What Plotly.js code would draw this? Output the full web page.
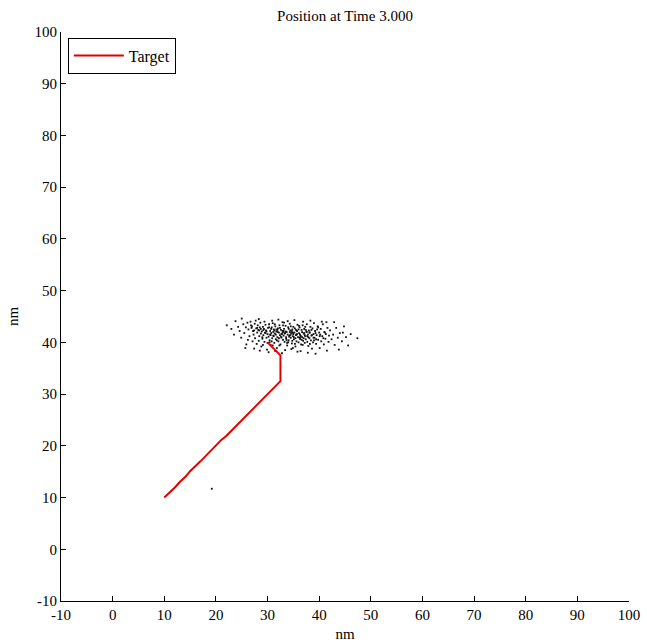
<!DOCTYPE html>
<html>
<head>
<meta charset="utf-8">
<script src="https://cdn.plot.ly/plotly-3.0.1.min.js"></script>
<style>
  html, body { margin: 0; padding: 0; background: #fff; }
  #chart { width: 647px; height: 644px; }
</style>
</head>
<body>
<div id="chart"></div>
<script>
// Target track (nm)
const targetX = [10.0, 10.8, 11.4, 12.1, 13.0, 14.1, 15.0, 16.0, 17.0, 18.0, 19.0, 20.0, 21.0, 22.0, 23.0, 24.1, 25.0, 26.0, 27.0, 28.0, 28.9, 29.8, 30.4, 31.1, 31.8, 32.5, 32.5, 32.5, 31.3, 30.0];
const targetY = [10.0, 10.7, 11.4, 12.0, 13.0, 14.0, 15.1, 16.0, 17.0, 18.0, 19.1, 20.0, 21.1, 21.9, 22.9, 24.0, 25.0, 26.0, 27.0, 28.1, 28.8, 29.8, 30.5, 31.0, 31.7, 32.5, 35.0, 37.5, 38.7, 40.0];

// Particle positions (nm)
const particleX = [
  22.1, 23.0, 23.8, 24.3, 24.6, 25.0, 25.3, 25.5, 25.8, 24.9, 23.5, 25.9, 26.1, 26.3, 26.5, 26.7, 26.9, 26.2, 25.7,
  27.0, 27.2, 27.3, 27.5, 27.6, 27.8, 27.9, 28.0, 28.1, 28.2, 28.3, 28.4, 28.5, 28.6, 28.7, 28.8, 28.9, 29.0, 29.1, 29.2, 29.3, 29.4, 29.5, 29.6, 29.7, 29.8, 29.9, 30.0, 27.4, 28.5, 29.1, 27.1, 27.7, 28.3, 29.4,
  30.1, 30.2, 30.3, 30.4, 30.5, 30.6, 30.7, 30.8, 30.9, 31.0, 31.1, 31.2, 31.3, 31.4, 31.5, 31.6, 31.7, 31.8, 31.9, 32.0, 32.1, 32.2, 32.3, 32.4, 32.5, 32.6, 32.7, 32.8, 32.9, 33.0, 30.2, 31.5, 32.8, 30.9, 32.1, 30.6, 31.3, 32.4, 31.8, 30.4, 33.0,
  33.1, 33.2, 33.3, 33.4, 33.5, 33.6, 33.7, 33.8, 33.9, 34.0, 34.1, 34.2, 34.3, 34.4, 34.5, 34.6, 34.7, 34.8, 34.9, 35.0, 35.1, 35.2, 35.3, 35.4, 35.5, 35.6, 35.7, 35.8, 35.9, 36.0, 33.4, 34.6, 35.8, 33.9, 35.2, 34.3, 35.5, 34.0, 33.6, 35.0, 34.8, 33.2,
  36.1, 36.2, 36.3, 36.4, 36.5, 36.6, 36.7, 36.8, 36.9, 37.0, 37.1, 37.2, 37.3, 37.4, 37.5, 37.6, 37.7, 37.8, 37.9, 38.0, 38.1, 38.2, 38.3, 38.4, 38.5, 38.6, 38.7, 38.8, 38.9, 39.0, 36.4, 37.8, 36.9, 38.3, 37.2, 36.6,
  39.1, 39.2, 39.4, 39.5, 39.7, 39.8, 40.0, 40.1, 40.3, 40.4, 40.6, 40.7, 40.9, 41.0, 41.2, 41.3, 41.5, 41.6, 41.8, 41.9, 39.3, 40.5, 41.4,
  42.1, 42.4, 42.7, 43.0, 43.3, 43.6, 44.0, 44.4, 44.8, 45.2, 45.6, 46.1, 47.4, 43.8, 42.9, 44.6,
  30.5, 30.8, 31.1, 31.6, 31.9, 32.2, 32.6, 32.9, 33.3, 33.7, 34.1, 34.4, 34.7, 35.1, 35.4, 35.7, 36.0, 36.3, 36.7, 37.0, 37.4, 37.7, 38.1, 38.5, 38.9, 39.3, 39.6, 40.2, 40.8, 41.1,
  29.8, 29.2, 28.7, 28.0, 27.4, 26.8, 31.4, 33.0, 34.5, 36.1, 37.3, 39.8, 32.3, 33.8, 35.3, 36.8, 38.2, 31.0, 34.9, 30.0,
  28.4, 29.6, 30.7, 31.2, 32.0, 32.7, 33.5, 34.2, 34.9, 35.6, 36.4, 37.1, 37.9, 38.6, 39.4, 40.1, 29.0, 30.3, 31.7, 33.1, 34.6, 36.2, 37.6, 39.0,
  19.2
];
const particleY = [
  43.3, 42.6, 44.1, 43.0, 42.2, 44.6, 43.5, 41.8, 42.9, 40.9, 41.5, 39.6, 43.8, 42.5, 41.2, 44.0, 42.8, 40.5, 38.9,
  43.1, 42.2, 41.5, 43.6, 40.8, 42.7, 39.7, 41.9, 43.3, 42.4, 40.3, 41.2, 42.9, 43.8, 41.7, 39.2, 42.1, 40.7, 43.0, 41.4, 42.6, 40.1, 41.9, 43.4, 42.3, 40.9, 38.6, 41.6, 38.8, 38.4, 39.5, 40.2, 44.2, 44.5, 44.0,
  42.8, 41.1, 43.5, 40.4, 42.2, 39.5, 41.8, 42.9, 40.8, 43.7, 41.3, 42.5, 39.9, 41.7, 43.1, 40.6, 42.1, 38.9, 41.0, 42.7, 40.2, 41.9, 43.3, 41.4, 39.6, 42.4, 40.9, 41.6, 43.9, 42.0, 38.1, 38.3, 37.9, 44.2, 44.4, 41.4, 42.3, 42.8, 40.4, 40.0, 40.5,
  41.3, 42.6, 40.1, 41.8, 43.2, 40.7, 42.0, 39.4, 41.5, 42.9, 40.4, 41.1, 43.6, 42.3, 40.9, 41.7, 39.8, 42.5, 41.2, 43.0, 40.6, 41.9, 42.7, 39.2, 41.4, 40.2, 42.2, 43.4, 41.0, 40.0, 38.5, 38.7, 38.2, 44.1, 44.3, 42.0, 42.4, 40.0, 41.0, 41.6, 40.3, 43.8,
  41.8, 42.9, 40.7, 41.3, 39.6, 42.4, 41.0, 43.3, 40.3, 41.7, 42.6, 39.9, 41.2, 40.6, 42.1, 43.5, 40.1, 41.5, 39.3, 42.3, 40.8, 41.9, 43.0, 40.4, 41.3, 38.8, 42.7, 40.0, 41.6, 43.7, 38.3, 38.0, 44.0, 44.2, 41.4, 40.5,
  40.9, 42.2, 39.7, 41.4, 43.1, 40.5, 41.9, 38.9, 42.6, 40.2, 41.2, 43.5, 39.6, 42.0, 40.7, 41.6, 38.4, 42.8, 40.1, 41.3, 37.8, 44.0, 43.9,
  42.3, 40.6, 41.5, 39.5, 42.8, 40.9, 41.8, 40.2, 43.1, 41.0, 39.4, 41.6, 40.8, 38.6, 43.9, 41.9,
  41.5, 40.2, 42.0, 41.5, 42.4, 40.8, 41.1, 42.2, 41.7, 40.4, 42.6, 41.4, 42.2, 41.0, 40.8, 41.6, 42.5, 41.5, 42.0, 40.8, 42.4, 41.2, 41.9, 42.4, 40.9, 41.8, 42.5, 41.5, 40.8, 41.9,
  42.1, 42.4, 42.6, 42.8, 42.3, 43.3, 43.5, 43.3, 43.1, 43.2, 43.0, 42.9, 39.4, 39.9, 39.7, 39.5, 39.7, 39.4, 38.9, 39.9,
  42.3, 41.8, 42.6, 41.2, 42.0, 41.7, 42.1, 41.3, 41.9, 41.5, 41.1, 41.8, 41.0, 41.4, 40.6, 41.2, 41.0, 42.9, 42.5, 42.2, 41.8, 40.9, 42.0, 40.4,
  11.7
];

// Tick values and their labels (hyphen minus, as printed)
const tickVals = [-10, 0, 10, 20, 30, 40, 50, 60, 70, 80, 90, 100];
const tickText = ['-10', '0', '10', '20', '30', '40', '50', '60', '70', '80', '90', '100'];

const serif = 'Liberation Serif, Times New Roman, serif';

const traces = [
  {
    x: particleX, y: particleY,
    type: 'scatter', mode: 'markers',
    marker: { color: '#111', size: 1.8, symbol: 'square' },
    showlegend: false, hoverinfo: 'skip'
  },
  {
    x: targetX, y: targetY,
    type: 'scatter', mode: 'lines',
    name: 'Target',
    line: { color: '#e00000', width: 2 }
  }
];

const axisCommon = {
  range: [-10, 100],
  tickmode: 'array',
  tickvals: tickVals,
  ticktext: tickText,
  ticks: 'inside',
  ticklen: 5,
  tickwidth: 1,
  tickcolor: '#000',
  showline: true,
  linecolor: '#000',
  linewidth: 1,
  mirror: false,
  showgrid: false,
  zeroline: false,
  tickfont: { family: serif, size: 15, color: '#000' }
};

const layout = {
  width: 647, height: 644,
  margin: { l: 61, r: 18, t: 32, b: 43 },
  paper_bgcolor: '#fff',
  plot_bgcolor: '#fff',
  font: { family: serif, size: 15, color: '#000' },
  title: {
    text: 'Position at Time 3.000',
    font: { family: serif, size: 15, color: '#000' },
    x: 0.5, xref: 'paper',
    y: 1 - 16 / 644, yref: 'container', yanchor: 'middle'
  },
  xaxis: Object.assign({}, axisCommon, {
    title: { text: 'nm', standoff: 6, font: { family: serif, size: 15, color: '#000' } }
  }),
  yaxis: Object.assign({}, axisCommon, {
    title: { text: 'nm', standoff: 12, font: { family: serif, size: 15, color: '#000' } }
  }),
  legend: {
    x: 0.012, y: 0.99, xanchor: 'left', yanchor: 'top',
    bgcolor: '#fff', bordercolor: '#000', borderwidth: 1,
    font: { family: serif, size: 16, color: '#000' },
    itemwidth: 50
  },
  showlegend: true
};

Plotly.newPlot('chart', traces, layout, { displayModeBar: false, staticPlot: true });
</script>
</body>
</html>
